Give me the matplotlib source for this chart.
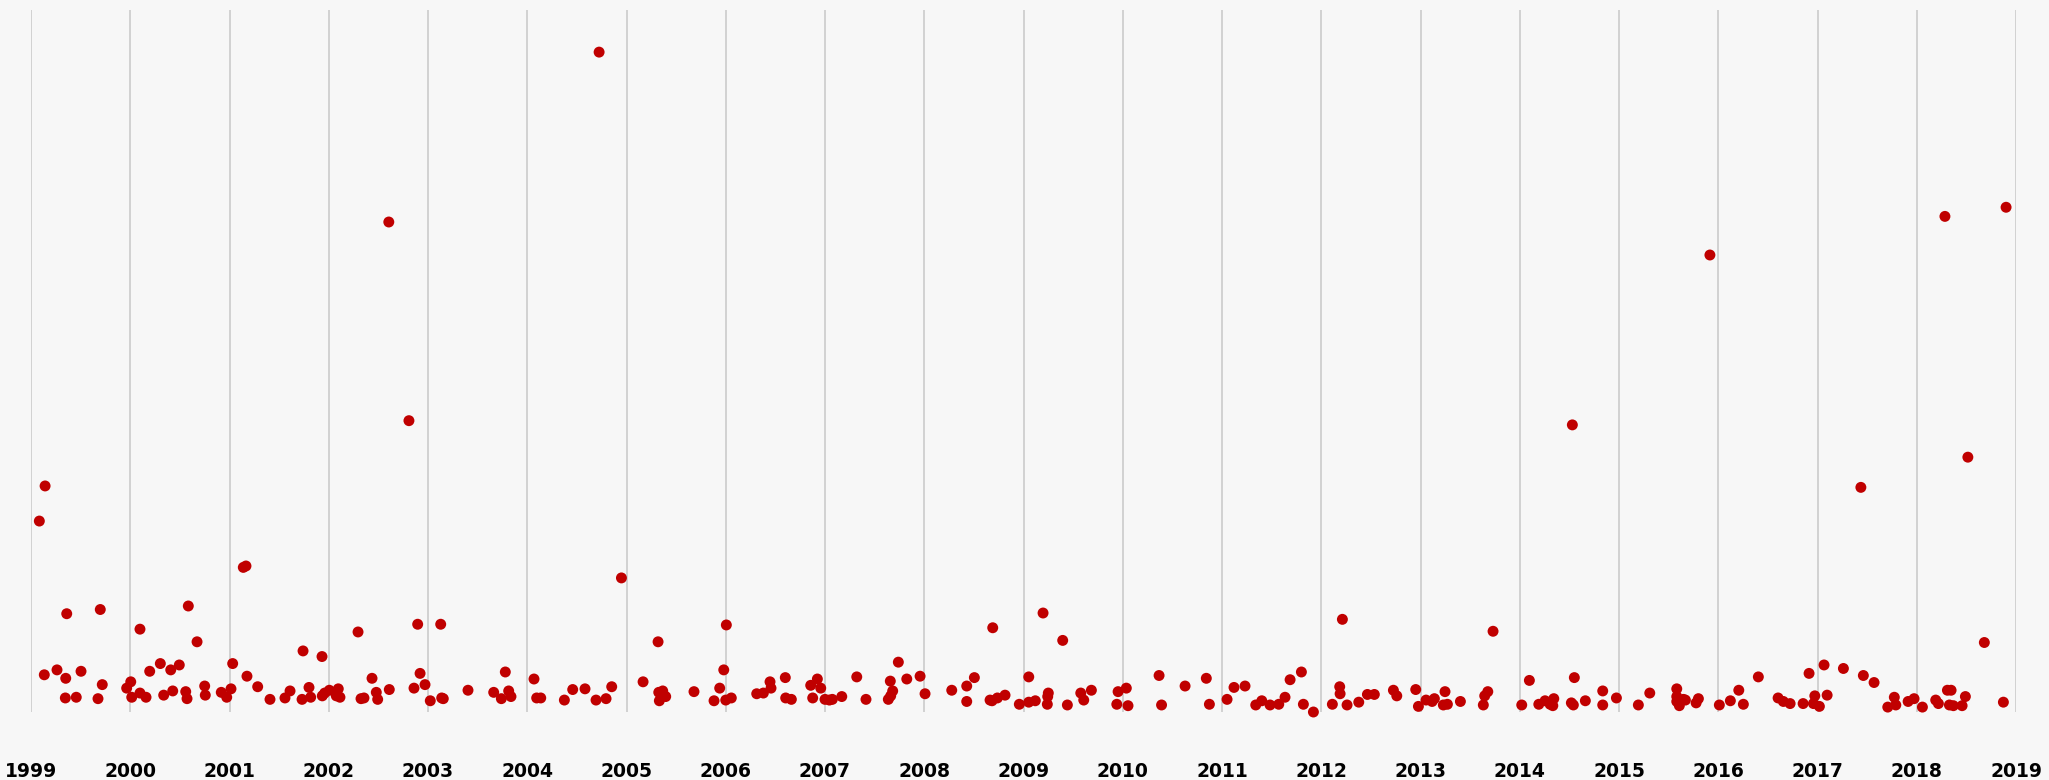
import matplotlib
matplotlib.use("Agg")
import matplotlib.pyplot as plt

# event dates (decimal years) and values
dates = [
    1999.084, 1999.134, 1999.142, 1999.262, 1999.346, 1999.350, 1999.360, 1999.456,
    1999.504, 1999.675, 1999.698, 1999.718, 1999.964, 2000.005, 2000.015, 2000.098,
    2000.098, 2000.159, 2000.196, 2000.303, 2000.337, 2000.408, 2000.428, 2000.494,
    2000.559, 2000.572, 2000.585, 2000.673, 2000.750, 2000.756, 2000.917, 2000.972,
    2001.015, 2001.032, 2001.139, 2001.166, 2001.176, 2001.284, 2001.408, 2001.559,
    2001.610, 2001.731, 2001.741, 2001.801, 2001.818, 2001.932, 2001.935, 2001.959,
    2002.006, 2002.076, 2002.096, 2002.113, 2002.295, 2002.325, 2002.355, 2002.436,
    2002.479, 2002.493, 2002.605, 2002.610, 2002.808, 2002.859, 2002.896, 2002.920,
    2002.970, 2003.023, 2003.128, 2003.138, 2003.154, 2003.403, 2003.662, 2003.739,
    2003.779, 2003.813, 2003.836, 2004.068, 2004.095, 2004.136, 2004.374, 2004.458,
    2004.582, 2004.693, 2004.724, 2004.794, 2004.851, 2004.949, 2005.167, 2005.318,
    2005.325, 2005.331, 2005.365, 2005.395, 2005.680, 2005.882, 2005.939, 2005.980,
    2006.000, 2006.006, 2006.056, 2006.312, 2006.379, 2006.446, 2006.456, 2006.600,
    2006.604, 2006.661, 2006.856, 2006.876, 2006.923, 2006.957, 2007.000, 2007.044,
    2007.074, 2007.169, 2007.320, 2007.413, 2007.638, 2007.658, 2007.662, 2007.682,
    2007.739, 2007.824, 2007.958, 2008.008, 2008.277, 2008.428, 2008.428, 2008.505,
    2008.663, 2008.683, 2008.690, 2008.737, 2008.814, 2008.958, 2009.053, 2009.053,
    2009.119, 2009.197, 2009.240, 2009.244, 2009.250, 2009.395, 2009.442, 2009.577,
    2009.607, 2009.684, 2009.940, 2009.953, 2010.036, 2010.053, 2010.366, 2010.391,
    2010.628, 2010.842, 2010.873, 2011.051, 2011.121, 2011.232, 2011.340, 2011.401,
    2011.484, 2011.572, 2011.635, 2011.686, 2011.800, 2011.820, 2011.921, 2012.112,
    2012.186, 2012.190, 2012.213, 2012.260, 2012.378, 2012.465, 2012.535, 2012.727,
    2012.761, 2012.952, 2012.979, 2013.056, 2013.117, 2013.140, 2013.230, 2013.247,
    2013.271, 2013.402, 2013.633, 2013.647, 2013.678, 2013.731, 2014.020, 2014.097,
    2014.192, 2014.255, 2014.306, 2014.333, 2014.343, 2014.520, 2014.530, 2014.540,
    2014.550, 2014.661, 2014.836, 2014.836, 2014.974, 2015.195, 2015.310, 2015.582,
    2015.582, 2015.582, 2015.608, 2015.649, 2015.669, 2015.777, 2015.800, 2015.916,
    2016.011, 2016.122, 2016.207, 2016.253, 2016.404, 2016.603, 2016.656, 2016.724,
    2016.855, 2016.915, 2016.959, 2016.973, 2017.019, 2017.066, 2017.097, 2017.261,
    2017.437, 2017.462, 2017.570, 2017.708, 2017.774, 2017.789, 2017.913, 2017.973,
    2018.057, 2018.191, 2018.218, 2018.284, 2018.309, 2018.346, 2018.329, 2018.369,
    2018.457, 2018.490, 2018.515, 2018.681, 2018.873, 2018.900,
]
values = [
    27.2, 5.3, 32.2, 6.0, 2.0, 4.8, 14.0, 2.1,
    5.8, 1.9, 14.6, 3.9, 3.4, 4.3, 2.1, 11.8,
    2.7, 2.1, 5.8, 6.9, 2.4, 6.0, 3.0, 6.7,
    2.9, 1.9, 15.1, 10.0, 3.7, 2.4, 2.8, 2.1,
    3.3, 6.9, 20.6, 20.8, 5.1, 3.6, 1.8, 2.0,
    3.0, 1.8, 8.7, 3.5, 2.1, 7.9, 2.3, 2.7,
    3.1, 2.3, 3.3, 2.1, 11.4, 1.9, 2.0, 4.8,
    2.8, 1.8, 69.8, 3.2, 41.5, 3.4, 12.5, 5.5,
    3.9, 1.6, 12.5, 2.0, 1.9, 3.1, 2.8, 1.9,
    5.7, 3.0, 2.2, 4.7, 2.0, 2.0, 1.7, 3.2,
    3.3, 1.7, 94.0, 1.9, 3.6, 19.1, 4.3, 10.0,
    2.8, 1.6, 3.0, 2.2, 2.9, 1.6, 3.4, 6.0,
    1.7, 12.4, 2.0, 2.6, 2.7, 4.3, 3.4, 4.9,
    2.0, 1.8, 3.8, 2.0, 4.7, 3.4, 1.8, 1.7,
    1.8, 2.2, 5.0, 1.8, 1.8, 4.4, 2.3, 3.0,
    7.1, 4.7, 5.1, 2.6, 3.1, 3.7, 1.5, 4.9,
    1.7, 1.6, 12.0, 2.0, 2.4, 1.1, 5.0, 1.4,
    1.6, 14.1, 1.1, 2.2, 2.7, 10.2, 1.0, 2.7,
    1.7, 3.1, 1.1, 2.9, 3.4, 0.9, 5.2, 1.0,
    3.7, 4.8, 1.1, 1.8, 3.5, 3.7, 1.0, 1.6,
    1.0, 1.1, 2.1, 4.6, 5.7, 1.1, 0.0, 1.1,
    3.6, 2.6, 13.2, 1.0, 1.4, 2.5, 2.5, 3.1,
    2.3, 3.2, 0.8, 1.7, 1.5, 1.9, 1.0, 2.9,
    1.1, 1.5, 1.0, 2.3, 2.9, 11.5, 1.0, 4.5,
    1.1, 1.6, 1.1, 0.9, 1.9, 1.3, 40.9, 1.0,
    4.9, 1.6, 3.0, 1.0, 2.0, 1.0, 2.7, 3.3,
    2.2, 1.5, 0.9, 1.8, 1.7, 1.3, 1.9, 65.1,
    1.0, 1.6, 3.1, 1.1, 5.0, 2.0, 1.5, 1.2,
    1.2, 5.5, 1.2, 2.3, 0.8, 6.7, 2.4, 6.2,
    32.0, 5.2, 4.2, 0.7, 2.1, 1.0, 1.5, 1.9,
    0.7, 1.7, 1.2, 70.6, 3.1, 3.1, 1.0, 0.9,
    0.9, 2.2, 36.3, 9.9, 1.4, 71.9,
]
years = list(range(1999, 2020))
year_labels = [str(y) for y in years]

bg = "#f7f7f7"
fig = plt.figure(figsize=(20.49, 7.8), dpi=100, facecolor=bg)
ax = fig.add_axes([31 / 2049, 68 / 780, 1985 / 2049, 702 / 780], facecolor=bg)

ax.scatter(dates, values, s=62, color="#c00000", edgecolors="none", zorder=3, clip_on=False)

ax.set_xlim(1999, 2019)
ax.set_ylim(0, 100)
ax.set_xticks(years)
ax.set_xticklabels(year_labels, fontsize=13.5, fontweight="bold", color="black",
                   family=["Liberation Sans Narrow", "DejaVu Sans"])
ax.tick_params(axis="x", length=0, pad=36)
ax.set_yticks([])
ax.grid(axis="x", color="#c8c8c8", linewidth=1.1, zorder=0)
for s in ax.spines.values():
    s.set_visible(False)

fig.savefig("out.png", dpi=100, facecolor=bg)
